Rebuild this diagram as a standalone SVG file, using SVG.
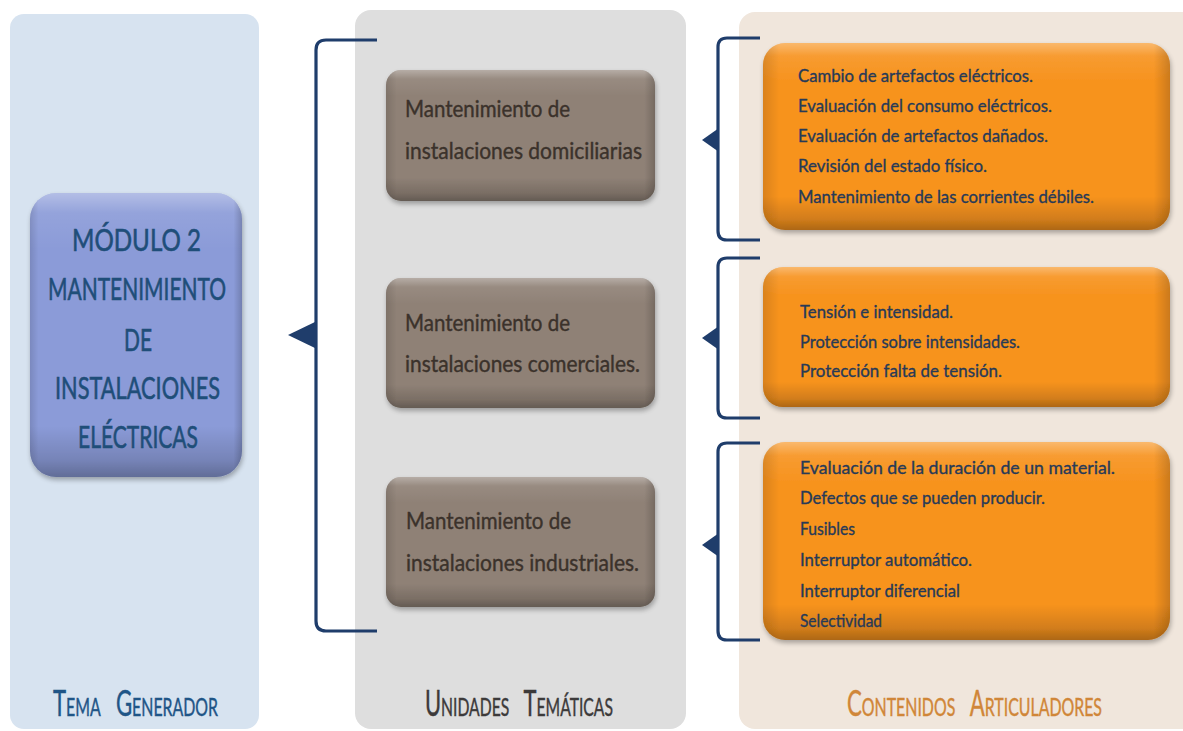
<svg xmlns="http://www.w3.org/2000/svg" width="1183" height="731" viewBox="0 0 1183 731">
<style>
.col{stroke:none}
.br{fill:none;stroke:#1f3d6b;stroke-width:3.2;stroke-linejoin:round}
.tri{fill:#1f3d6b}
.t{font-family:Lato,"Open Sans","Liberation Sans",sans-serif}
.mod{font-size:30px;fill:#1f4e79;stroke:#1f4e79;stroke-width:0.6}
.unit{font-size:23px;fill:#3b322b;stroke:#3b322b;stroke-width:0.4}
.cont{font-size:18px;fill:#273a58;stroke:#273a58;stroke-width:0.35}
.lbl{font-size:28px;font-variant:small-caps;word-spacing:12px;stroke-width:0.35}
.l1{fill:#1f5587;stroke:#1f5587}
.l2{fill:#3c3a3a;stroke:#3c3a3a}
.l3{fill:#d08638;stroke:#d08638}
</style>
<defs>
<linearGradient id="vb" x1="0" y1="0" x2="0" y2="1">
<stop offset="0" stop-color="#fff" stop-opacity="0.35"/>
<stop offset="0.07" stop-color="#fff" stop-opacity="0.08"/>
<stop offset="0.2" stop-color="#fff" stop-opacity="0"/>
<stop offset="0.82" stop-color="#000" stop-opacity="0"/>
<stop offset="0.94" stop-color="#000" stop-opacity="0.15"/>
<stop offset="1" stop-color="#000" stop-opacity="0.3"/>
</linearGradient>
<linearGradient id="hb" x1="0" y1="0" x2="1" y2="0">
<stop offset="0" stop-color="#000" stop-opacity="0.12"/>
<stop offset="0.04" stop-color="#000" stop-opacity="0"/>
<stop offset="0.96" stop-color="#000" stop-opacity="0"/>
<stop offset="1" stop-color="#000" stop-opacity="0.18"/>
</linearGradient>
<filter id="sh" x="-10%" y="-10%" width="120%" height="125%">
<feGaussianBlur in="SourceAlpha" stdDeviation="2.5"/>
<feOffset dx="1" dy="3"/>
<feComponentTransfer><feFuncA type="linear" slope="0.3"/></feComponentTransfer>
<feMerge><feMergeNode/><feMergeNode in="SourceGraphic"/></feMerge>
</filter>
</defs>

<g id="columns">
<rect class="col" x="10" y="14" width="249" height="715" rx="14" fill="#d7e3f0"/>
<rect class="col" x="355" y="10" width="331" height="719" rx="16" fill="#dedede"/>
<rect class="col" x="739" y="12" width="460" height="717" rx="16" fill="#f0e6dc"/>
</g>

<g id="connectors">
<path class="br" d="M377,40 H326 Q316,40 316,50 V621 Q316,631 326,631 H377"/>
<polygon class="tri" points="288,335 317,321 317,349"/>
<path class="br" d="M760,38 H727 Q718,38 718,47 V231 Q718,240 727,240 H760"/>
<polygon class="tri" points="702,140 719,128 719,152"/>
<path class="br" d="M760,258 H727 Q718,258 718,267 V409 Q718,418 727,418 H760"/>
<polygon class="tri" points="702,338 719,326 719,350"/>
<path class="br" d="M760,443 H727 Q718,443 718,452 V631 Q718,640 727,640 H760"/>
<polygon class="tri" points="702,545 719,533 719,557"/>
</g>

<g id="node-modulo">
<g filter="url(#sh)">
<rect x="30" y="193" width="212" height="284" rx="26" fill="#8b9bd8"/>
<rect x="30" y="193" width="212" height="284" rx="26" fill="url(#vb)"/>
<rect x="30" y="193" width="212" height="284" rx="26" fill="url(#hb)"/>
</g>
<text class="t mod" x="72" y="251" textLength="129" lengthAdjust="spacingAndGlyphs">MÓDULO 2</text>
<text class="t mod" x="48" y="300" textLength="178" lengthAdjust="spacingAndGlyphs">MANTENIMIENTO</text>
<text class="t mod" x="124" y="351" textLength="28" lengthAdjust="spacingAndGlyphs">DE</text>
<text class="t mod" x="55" y="399" textLength="165" lengthAdjust="spacingAndGlyphs">INSTALACIONES</text>
<text class="t mod" x="78" y="448" textLength="120" lengthAdjust="spacingAndGlyphs">ELÉCTRICAS</text>
</g>

<g id="unit-domiciliarias">
<g filter="url(#sh)">
<rect x="386" y="70" width="269" height="131" rx="15" fill="#8f8176"/>
<rect x="386" y="70" width="269" height="131" rx="15" fill="url(#vb)"/>
<rect x="386" y="70" width="269" height="131" rx="15" fill="url(#hb)"/>
</g>
<text class="t unit" x="405" y="117" textLength="165" lengthAdjust="spacingAndGlyphs">Mantenimiento de</text>
<text class="t unit" x="405" y="159" textLength="237" lengthAdjust="spacingAndGlyphs">instalaciones domiciliarias</text>
</g>

<g id="unit-comerciales">
<g filter="url(#sh)">
<rect x="386" y="278" width="269" height="130" rx="15" fill="#8f8176"/>
<rect x="386" y="278" width="269" height="130" rx="15" fill="url(#vb)"/>
<rect x="386" y="278" width="269" height="130" rx="15" fill="url(#hb)"/>
</g>
<text class="t unit" x="405" y="331" textLength="165" lengthAdjust="spacingAndGlyphs">Mantenimiento de</text>
<text class="t unit" x="405" y="372" textLength="235" lengthAdjust="spacingAndGlyphs">instalaciones comerciales.</text>
</g>

<g id="unit-industriales">
<g filter="url(#sh)">
<rect x="386" y="477" width="269" height="130" rx="15" fill="#8f8176"/>
<rect x="386" y="477" width="269" height="130" rx="15" fill="url(#vb)"/>
<rect x="386" y="477" width="269" height="130" rx="15" fill="url(#hb)"/>
</g>
<text class="t unit" x="406" y="529" textLength="165" lengthAdjust="spacingAndGlyphs">Mantenimiento de</text>
<text class="t unit" x="406" y="571" textLength="233" lengthAdjust="spacingAndGlyphs">instalaciones industriales.</text>
</g>

<g id="contenidos-1">
<g filter="url(#sh)">
<rect x="763" y="43" width="407" height="187" rx="22" fill="#f7931f"/>
<rect x="763" y="43" width="407" height="187" rx="22" fill="url(#vb)"/>
<rect x="763" y="43" width="407" height="187" rx="22" fill="url(#hb)"/>
</g>
<text class="t cont" x="798" y="82" textLength="235" lengthAdjust="spacingAndGlyphs">Cambio de artefactos eléctricos.</text>
<text class="t cont" x="798" y="112" textLength="254" lengthAdjust="spacingAndGlyphs">Evaluación del consumo eléctricos.</text>
<text class="t cont" x="798" y="142" textLength="250" lengthAdjust="spacingAndGlyphs">Evaluación de artefactos dañados.</text>
<text class="t cont" x="798" y="172" textLength="189" lengthAdjust="spacingAndGlyphs">Revisión del estado físico.</text>
<text class="t cont" x="798" y="203" textLength="296" lengthAdjust="spacingAndGlyphs">Mantenimiento de las corrientes débiles.</text>
</g>

<g id="contenidos-2">
<g filter="url(#sh)">
<rect x="763" y="267" width="407" height="140" rx="20" fill="#f7931f"/>
<rect x="763" y="267" width="407" height="140" rx="20" fill="url(#vb)"/>
<rect x="763" y="267" width="407" height="140" rx="20" fill="url(#hb)"/>
</g>
<text class="t cont" x="800" y="318" textLength="153" lengthAdjust="spacingAndGlyphs">Tensión e intensidad.</text>
<text class="t cont" x="800" y="348" textLength="220" lengthAdjust="spacingAndGlyphs">Protección sobre intensidades.</text>
<text class="t cont" x="800" y="377" textLength="202" lengthAdjust="spacingAndGlyphs">Protección falta de tensión.</text>
</g>

<g id="contenidos-3">
<g filter="url(#sh)">
<rect x="763" y="442" width="407" height="198" rx="22" fill="#f7931f"/>
<rect x="763" y="442" width="407" height="198" rx="22" fill="url(#vb)"/>
<rect x="763" y="442" width="407" height="198" rx="22" fill="url(#hb)"/>
</g>
<text class="t cont" x="800" y="474" textLength="315" lengthAdjust="spacingAndGlyphs">Evaluación de la duración de un material.</text>
<text class="t cont" x="800" y="504" textLength="245" lengthAdjust="spacingAndGlyphs">Defectos que se pueden producir.</text>
<text class="t cont" x="800" y="535" textLength="55" lengthAdjust="spacingAndGlyphs">Fusibles</text>
<text class="t cont" x="800" y="566" textLength="172" lengthAdjust="spacingAndGlyphs">Interruptor automático.</text>
<text class="t cont" x="800" y="597" textLength="160" lengthAdjust="spacingAndGlyphs">Interruptor diferencial</text>
<text class="t cont" x="800" y="627" textLength="82" lengthAdjust="spacingAndGlyphs">Selectividad</text>
</g>

<g id="labels">
<text class="t lbl l1" transform="scale(1,1.28)" x="53" y="559.4" textLength="165" lengthAdjust="spacingAndGlyphs">Tema Generador</text>
<text class="t lbl l2" transform="scale(1,1.28)" x="425" y="559.4" textLength="188" lengthAdjust="spacingAndGlyphs">Unidades Temáticas</text>
<text class="t lbl l3" transform="scale(1,1.28)" x="847" y="559.4" textLength="255" lengthAdjust="spacingAndGlyphs">Contenidos Articuladores</text>
</g>
</svg>
